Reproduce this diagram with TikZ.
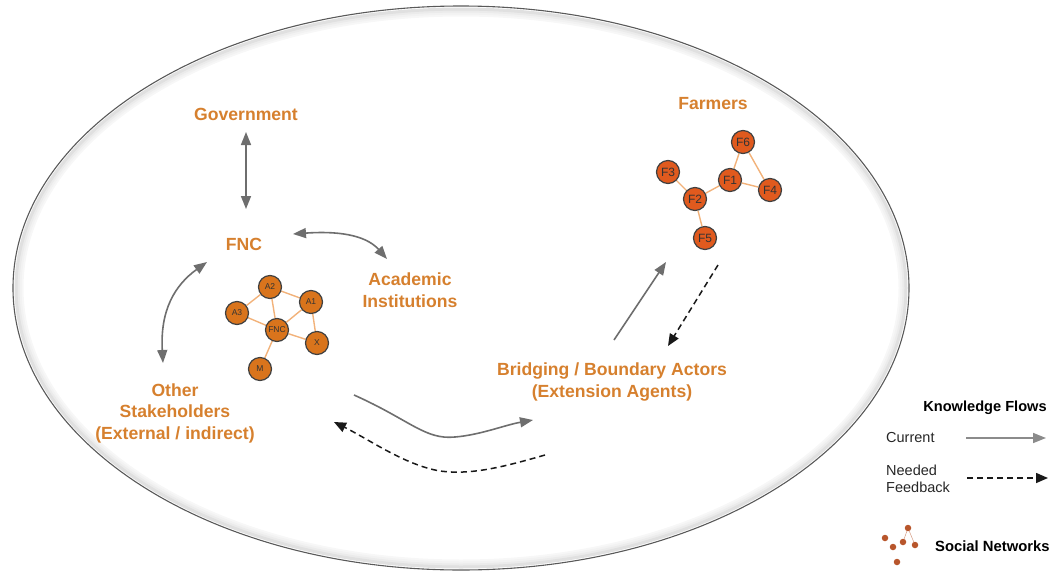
\documentclass[tikz,border=0pt]{standalone}
\usepackage{fontspec}
\setmainfont{Liberation Sans}
\usetikzlibrary{arrows.meta,backgrounds}
\definecolor{lbl}{HTML}{D6802E}
\definecolor{anode}{HTML}{D9741C}
\definecolor{fnode}{HTML}{E05A1E}
\definecolor{nedge}{HTML}{F2B27A}
\definecolor{arr}{HTML}{6E6E6E}
\definecolor{dot}{HTML}{B8562C}
\tikzset{
  lab/.style={text=lbl, font=\bfseries\fontsize{17.6}{21.5}\selectfont, align=center, inner sep=0pt},
  anet/.style={circle, draw=black!75, line width=1.2pt, fill=anode, minimum size=23pt, inner sep=0pt, font=\fontsize{8.5}{8.5}\selectfont, text=black!80},
  fnet/.style={circle, draw=black!75, line width=1.2pt, fill=fnode, minimum size=23pt, inner sep=0pt, font=\fontsize{12}{12}\selectfont, text=black!80},
  nlink/.style={nedge, line width=1.4pt},
  cur/.style={arr, line width=1.6pt, -{Triangle[length=13pt,width=10pt]}},
  curboth/.style={arr, line width=1.6pt, {Triangle[length=13pt,width=10pt]}-{Triangle[length=13pt,width=10pt]}},
  fb/.style={black!90, line width=1.5pt, dash pattern=on 6pt off 4pt, -{Triangle[length=12pt,width=10pt]}},
  leg/.style={font=\fontsize{14.5}{17}\selectfont, inner sep=0pt, align=left, text=black!85},
  sdot/.style={circle, fill=dot, inner sep=0pt, minimum size=6.5pt}
}
\begin{document}
\begin{tikzpicture}[x=1pt,y=-1pt]
\useasboundingbox (0,0) rectangle (1053,579);
% boundary ellipse with soft inner shadow
\foreach \d/\c in {9/3,7/5,5/8,3/12}{
  \draw[black!\c, line width=3pt] (461,288) ellipse [x radius=448-\d, y radius=282-\d];
}
\draw[black!65, line width=1.1pt] (461,288) ellipse [x radius=448, y radius=282];

% labels
\node[lab] (gov) at (246,114) {Government};
\node[lab] (fnc) at (244,244) {FNC};
\node[lab] (acad) at (410,290) {Academic\\Institutions};
\node[lab] (other) at (175,413) {Other\\Stakeholders\\(External / indirect)};
\node[lab] (bridge) at (612,382) {Bridging / Boundary Actors\\(Extension Agents)};
\node[lab] (farm) at (713,104) {Farmers};

% FNC network
\node[anet] (A2) at (270,287) {A2};
\node[anet] (A1) at (311,302) {A1};
\node[anet] (A3) at (237,313) {A3};
\node[anet] (FN) at (277,330) {FNC};
\node[anet] (X) at (317,343) {X};
\node[anet] (M) at (260,369) {M};
\begin{scope}[on background layer]
\draw[nlink] (A2) -- (A1);
\draw[nlink] (A2) -- (A3);
\draw[nlink] (A2) -- (FN);
\draw[nlink] (A3) -- (FN);
\draw[nlink] (A1) -- (FN);
\draw[nlink] (A1) -- (X);
\draw[nlink] (FN) -- (X);
\draw[nlink] (FN) -- (M);
\end{scope}

% Farmers network
\node[fnet] (F6) at (743,142) {F6};
\node[fnet] (F3) at (668,172) {F3};
\node[fnet] (F1) at (730,180) {F1};
\node[fnet] (F4) at (770,190) {F4};
\node[fnet] (F2) at (695,199) {F2};
\node[fnet] (F5) at (705,238) {F5};
\begin{scope}[on background layer]
\draw[nlink] (F6) -- (F1);
\draw[nlink] (F6) -- (F4);
\draw[nlink] (F1) -- (F4);
\draw[nlink] (F1) -- (F2);
\draw[nlink] (F2) -- (F3);
\draw[nlink] (F2) -- (F5);
\end{scope}

% arrows
\coordinate (g1) at (246,132);
\coordinate (g2) at (246,209);
\draw[curboth] (g1) -- (g2);
\coordinate (ac1) at (293,234);
\coordinate (ac2) at (387,259);
\draw[curboth] (ac1) .. controls (335,231) and (365,234) .. (ac2);
\coordinate (os1) at (207,262);
\coordinate (os2) at (163,363);
\draw[curboth] (os1) .. controls (175,285) and (160,310) .. (os2);
\coordinate (bf1) at (614,340);
\coordinate (bf2) at (666,262);
\draw[cur] (bf1) -- (bf2);
\coordinate (fb1) at (718,265);
\coordinate (fb2) at (668,346);
\draw[fb] (fb1) -- (fb2);
\coordinate (sc1) at (354,395);
\coordinate (sc2) at (533,420);
\draw[cur] (sc1) .. controls (410,420) and (425,440) .. (455,437) .. controls (480,435) and (505,425) .. (sc2);
\coordinate (dc1) at (545,455);
\coordinate (dc2) at (334,422);
\draw[fb] (dc1) .. controls (500,468) and (470,475) .. (440,471) .. controls (405,465) and (370,440) .. (dc2);

% legend
\node[font=\bfseries\fontsize{14.6}{17}\selectfont, inner sep=0pt] (kf) at (985,408) {Knowledge Flows};
\node[leg, anchor=west] (lc) at (886,438) {Current};
\coordinate (lc1) at (966,438);
\coordinate (lc2) at (1046,438);
\draw[cur, arr!80] (lc1) -- (lc2);
\node[leg, anchor=west] (lf) at (886,479) {Needed\\Feedback};
\coordinate (lf1) at (967,478);
\coordinate (lf2) at (1048,478);
\draw[fb] (lf1) -- (lf2);
\node[sdot] (s1) at (908,528) {};
\node[sdot] (s2) at (885,538) {};
\node[sdot] (s3) at (903,542) {};
\node[sdot] (s4) at (915,545) {};
\node[sdot] (s5) at (893,547) {};
\node[sdot] (s6) at (897,562) {};
\begin{scope}[on background layer]
\draw[dot!60, line width=0.5pt] (s1) -- (s4);
\draw[dot!60, line width=0.5pt] (s1) -- (s3);
\end{scope}
\node[font=\bfseries\fontsize{14.8}{17}\selectfont, inner sep=0pt, anchor=west] (sn) at (935,546) {Social Networks};
\end{tikzpicture}
\end{document}
